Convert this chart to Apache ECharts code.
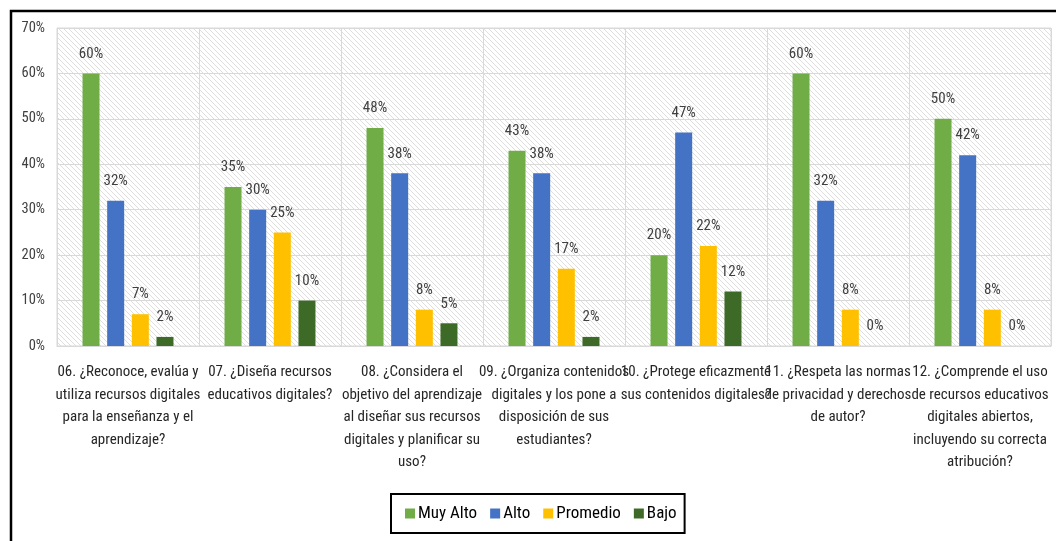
<!DOCTYPE html>
<html>
<head>
<meta charset="utf-8">
<script src="https://cdn.jsdelivr.net/npm/echarts@6/dist/echarts.min.js"></script>
<style>
html,body{margin:0;padding:0;background:#fff;}
#chart{width:1056px;height:541px;}
</style>
</head>
<body>
<div id="chart"></div>
<script>
const categories = [
  "06. ¿Reconoce, evalúa y\nutiliza recursos digitales\npara la enseñanza y el\naprendizaje?",
  "07. ¿Diseña recursos\neducativos digitales?",
  "08. ¿Considera el\nobjetivo del aprendizaje\nal diseñar sus recursos\ndigitales y planificar su\nuso?",
  "09. ¿Organiza contenidos\ndigitales y los pone a\ndisposición de sus\nestudiantes?",
  "10. ¿Protege eficazmente\nsus contenidos digitales?",
  "11. ¿Respeta las normas\nde privacidad y derechos\nde autor?",
  "12. ¿Comprende el uso\nde recursos educativos\ndigitales abiertos,\nincluyendo su correcta\natribución?"
];
const seriesNames = ["Muy Alto", "Alto", "Promedio", "Bajo"];
const muyAlto = [60, 35, 48, 43, 20, 60, 50];
const alto = [32, 30, 38, 38, 47, 32, 42];
const promedio = [7, 25, 8, 17, 22, 8, 8];
const bajo = [2, 10, 5, 2, 12, 0, 0];
const yTicks = { min: 0, max: 70, interval: 10 };

const colors = ["#70AD47", "#4472C4", "#FFC000", "#3E6A28"];

// hatch pattern
const pc = document.createElement('canvas');
pc.width = 5; pc.height = 5;
const ctx = pc.getContext('2d');
ctx.fillStyle = '#ffffff';
ctx.fillRect(0, 0, 5, 5);
ctx.strokeStyle = '#dedede';
ctx.lineWidth = 1;
ctx.beginPath();
ctx.moveTo(-1, -1); ctx.lineTo(6, 6);
ctx.moveTo(-6, -1); ctx.lineTo(1, 6);
ctx.moveTo(4, -1); ctx.lineTo(11, 6);
ctx.stroke();

const narrow = '"Roboto Condensed", "Liberation Sans Narrow", sans-serif';
const dataArr = [muyAlto, alto, promedio, bajo];

const chart = echarts.init(document.getElementById('chart'), null, { renderer: 'canvas' });
chart.setOption({
  animation: false,
  backgroundColor: '#fff',
  color: colors,
  graphic: [{
    type: 'rect',
    shape: { x: 11, y: 11, width: 1070, height: 560 },
    style: { fill: 'none', stroke: '#000', lineWidth: 2.5 },
    silent: true
  }],
  grid: {
    left: 57, right: 5, top: 28, bottom: 195,
    show: true,
    backgroundColor: { image: pc, repeat: 'repeat' },
    borderColor: '#d9d9d9', borderWidth: 1
  },
  legend: {
    data: seriesNames,
    left: 391, top: 494,
    padding: [11, 8, 11, 14],
    borderColor: '#000', borderWidth: 2,
    itemWidth: 10, itemHeight: 10, itemGap: 13,
    icon: 'rect',
    textStyle: { fontFamily: narrow, fontSize: 17, color: '#000', padding: [0, 0, 0, -2] }
  },
  xAxis: {
    type: 'category',
    data: categories,
    axisTick: { show: false },
    axisLine: { lineStyle: { color: '#d9d9d9' } },
    splitLine: { show: true, lineStyle: { color: '#d9d9d9' } },
    axisLabel: {
      interval: 0, margin: 15,
      fontFamily: narrow, fontSize: 15, lineHeight: 22.5,
      color: '#262626', align: 'center'
    }
  },
  yAxis: {
    type: 'value',
    min: yTicks.min, max: yTicks.max, interval: yTicks.interval,
    axisLine: { show: false },
    axisTick: { show: false },
    splitLine: { lineStyle: { color: '#d9d9d9' } },
    axisLabel: {
      formatter: '{value}%', margin: 12,
      fontFamily: narrow, fontSize: 14.5, color: '#404040'
    }
  },
  series: seriesNames.map((n, i) => ({
    name: n,
    type: 'bar',
    data: dataArr[i],
    barWidth: 17,
    barGap: '45%',
    label: {
      show: true, position: 'top', distance: 12,
      formatter: '{c}%',
      fontFamily: narrow, fontSize: 15, color: '#404040'
    }
  }))
});
</script>
</body>
</html>
